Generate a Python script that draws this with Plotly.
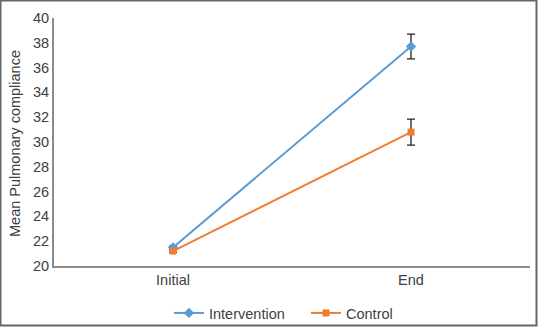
import plotly.graph_objects as go

categories = ["Initial", "End"]
intervention = [21.5, 37.7]
intervention_err = [0.1, 1.0]
control = [21.2, 30.8]
control_err = [0.1, 1.05]
yticks = [20, 22, 24, 26, 28, 30, 32, 34, 36, 38, 40]
y_title = "Mean Pulmonary compliance"

L, R, T, B = 54, 8, 18, 61
W, H = 538, 327
pw, ph = W - L - R, H - T - B

def px_x(p):
    return (p - L) / pw

def px_y(p):
    return (H - B - p) / ph

fig = go.Figure()
fig.add_trace(go.Scatter(
    x=categories, y=intervention, name="Intervention", mode="lines+markers",
    line=dict(color="#5B9BD5", width=2),
    marker=dict(symbol="diamond", size=8, color="#5B9BD5"),
    error_y=dict(type="data", array=intervention_err, color="#222222", thickness=1.3, width=4),
))
fig.add_trace(go.Scatter(
    x=categories, y=control, name="Control", mode="lines+markers",
    line=dict(color="#ED7D31", width=2),
    marker=dict(symbol="square", size=7, color="#ED7D31"),
    error_y=dict(type="data", array=control_err, color="#222222", thickness=1.3, width=4),
))

fig.update_layout(
    width=W, height=H,
    margin=dict(l=L, r=R, t=T, b=B, autoexpand=False),
    paper_bgcolor="white", plot_bgcolor="white",
    font=dict(family="Liberation Sans, Arial, sans-serif", size=14.5, color="#404040"),
    showlegend=True,
    legend=dict(orientation="h", x=169 / W, xanchor="left", xref="container",
                y=px_y(313), yanchor="middle", bgcolor="rgba(0,0,0,0)",
                font=dict(size=14.5, color="#404040"), itemwidth=30,
                entrywidth=92, entrywidthmode="pixels"),
    xaxis=dict(showline=True, linecolor="#8c8c8c", linewidth=2, showgrid=False,
               ticks="", zeroline=False, range=[-0.5, 1.5], automargin=False),
    yaxis=dict(range=[20, 40], tickvals=yticks, showline=True, linecolor="#8c8c8c",
               linewidth=2, showgrid=False, ticks="", zeroline=False, automargin=False),
)
fig.add_annotation(text=y_title, xref="paper", yref="paper",
                   x=px_x(15), y=px_y(144), textangle=-90, showarrow=False,
                   xanchor="center", yanchor="middle",
                   font=dict(size=14.5, color="#404040"))
fig.add_shape(type="rect", xref="paper", yref="paper",
              x0=px_x(0.5), x1=px_x(536.5), y0=px_y(325.5), y1=px_y(0.5),
              line=dict(color="#666666", width=2), layer="above")

fig.write_html("out.html", config={"displayModeBar": False},
               post_script="document.body.style.margin='0px';")
